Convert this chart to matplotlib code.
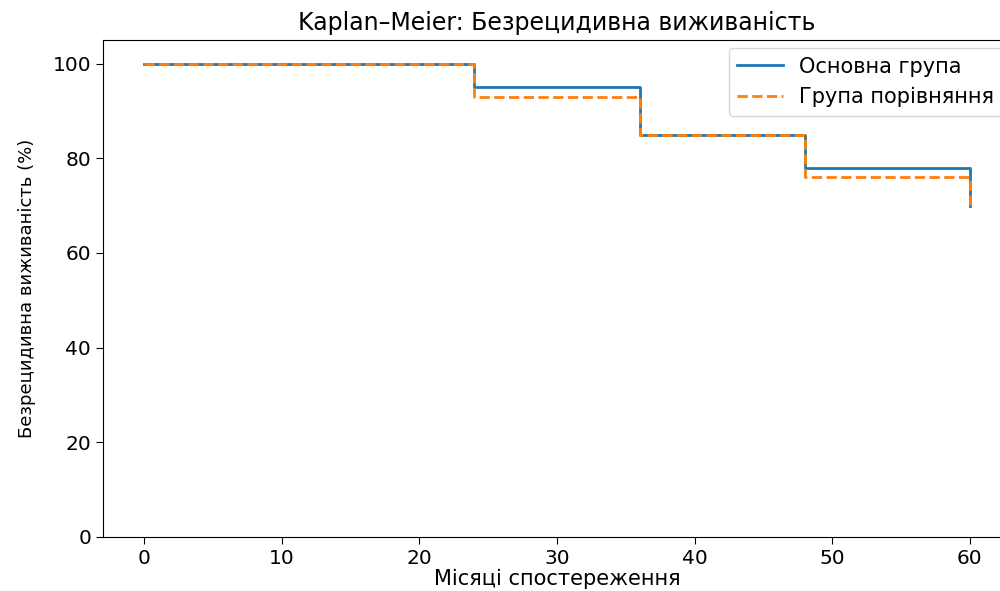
import numpy as np
import matplotlib
matplotlib.use('Agg')
import matplotlib.pyplot as plt

# months of follow-up and survival (%)
months = [0, 24, 36, 48, 60]
main_group = [100, 95, 85, 78, 70]
compare_group = [100, 93, 85, 76, 70]

title = 'Kaplan–Meier: Безрецидивна виживаність'
xlabel = 'Місяці спостереження'
ylabel = 'Безрецидивна виживаність (%)'
labels = ['Основна група', 'Група порівняння']

fig = plt.figure(figsize=(10, 5.91), dpi=100)
ax = fig.add_axes([0.103, 0.0914, 0.908, 0.841])

ax.plot(months, main_group, drawstyle='steps-post', color='#1f77b4',
        linewidth=2, label=labels[0])
ax.plot(months, compare_group, drawstyle='steps-post', color='#ff7f0e',
        linewidth=2, linestyle='--', label=labels[1])

ax.set_xlim(-3, 63)
ax.set_ylim(0, 105)
ax.set_xticks([0, 10, 20, 30, 40, 50, 60])
ax.set_yticks([0, 20, 40, 60, 80, 100])
ax.tick_params(labelsize=14.5, length=5)

ax.set_title(title, fontsize=17, pad=7)
ax.set_xlabel(xlabel, fontsize=15, labelpad=1)
ax.set_ylabel(ylabel, fontsize=13, labelpad=12)

ax.legend(loc='upper right', fontsize=15, handlelength=2.2,
          borderaxespad=0.4)

fig.savefig('out.png', dpi=100)
